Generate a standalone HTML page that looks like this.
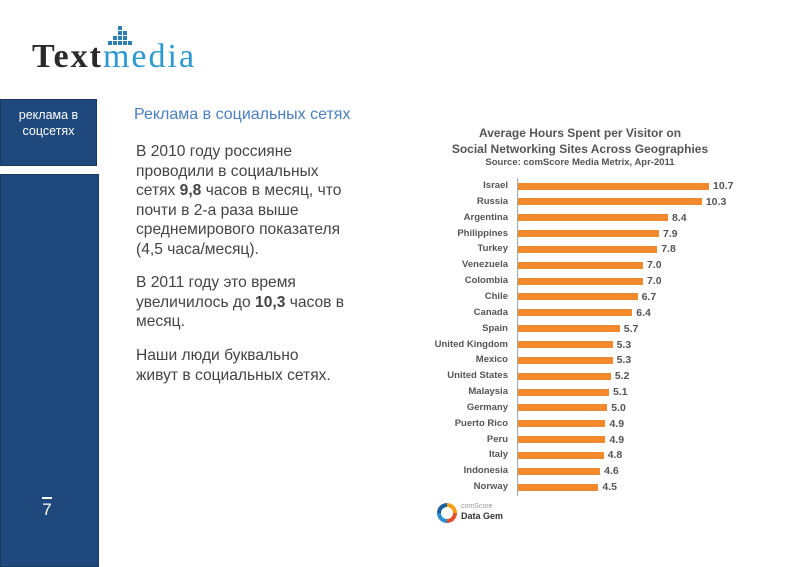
<!DOCTYPE html>
<html><head><meta charset="utf-8"><style>
body{margin:0;width:800px;height:565px;background:#fff;position:relative;overflow:hidden;font-family:"Liberation Sans",sans-serif}
.a{position:absolute}
.box{background:#1f497d;border:1px solid #163a63;left:0;width:97px}
.p{left:136px;font-size:15.6px;color:#444;line-height:19.6px;margin:0;white-space:nowrap}
.lab{position:absolute;right:292px;font-size:9.5px;font-weight:bold;color:#555;text-align:right;white-space:nowrap}
.bar{position:absolute;left:518px;height:7px;background:#f08a2c}
.val{position:absolute;font-size:10.5px;font-weight:bold;color:#555}
</style></head><body>
<div class="a" style="left:32px;top:38px;font-family:'Liberation Serif',serif;font-size:34px;color:#2a2a2a;font-weight:bold;letter-spacing:2px">Text<span style="color:#2c9ad0;font-weight:normal">media</span></div>
<svg class="a" style="left:108px;top:26px" width="30" height="22">
<g fill="#2c7fb0"><rect x="10" y="0" width="4" height="4"/><rect x="10" y="5" width="4" height="4"/><rect x="15" y="5" width="4" height="4"/><rect x="5" y="10" width="4" height="4"/><rect x="10" y="10" width="4" height="4"/><rect x="15" y="10" width="4" height="4"/><rect x="0" y="15" width="4" height="4"/><rect x="5" y="15" width="4" height="4"/><rect x="10" y="15" width="4" height="4"/><rect x="15" y="15" width="4" height="4"/><rect x="20" y="15" width="4" height="4"/></g></svg>
<div class="a box" style="top:99px;color:#fff;font-size:12.5px;text-align:center;line-height:16px;padding-top:7px;box-sizing:border-box;height:67px">реклама в<br>соцсетях</div>
<div class="a box" style="top:174px;height:391px"></div>
<div class="a" style="left:40px;top:497px;color:#fff;font-size:17px;width:14px;text-align:center;line-height:20px"><div style="border-top:2px solid #fff;width:10px;margin:0 auto 1px"></div>7</div>
<div class="a" style="left:134px;top:106px;font-size:16px;color:#4a7fc1">Реклама в социальных сетях</div>
<p class="a p" style="top:142px">В 2010 году россияне<br>проводили в социальных<br>сетях <b>9,8</b> часов в месяц, что<br>почти в 2-а раза выше<br>среднемирового показателя<br>(4,5 часа/месяц).</p>
<p class="a p" style="top:273px">В 2011 году это время<br>увеличилось до <b>10,3</b> часов в<br>месяц.</p>
<p class="a p" style="top:346px">Наши люди буквально<br>живут в социальных сетях.</p>
<div class="a" style="left:420px;top:125px;width:320px;text-align:center;color:#555;font-weight:bold;font-size:12px;line-height:16px">Average Hours Spent per Visitor on<br>Social Networking Sites Across Geographies<div style="font-size:9.5px;line-height:12px">Source: comScore Media Metrix, Apr-2011</div></div>
<div class="a" style="left:517px;top:178px;width:1px;height:318px;background:#aaa"></div>
<div id="c"></div>
<div class="a" style="left:437px;top:503px;width:20px;height:20px;border-radius:50%;background:conic-gradient(#f6a01a 0 25%,#e2512a 25% 50%,#2c8fd0 50% 75%,#1a5fa0 75%)"></div>
<div class="a" style="left:441px;top:507px;width:12px;height:12px;border-radius:50%;background:#fff"></div>
<div class="a" style="left:461px;top:503px;font-size:7px;color:#999">comScore</div>
<div class="a" style="left:461px;top:511px;font-size:9px;font-weight:bold;color:#333">Data Gem</div>
<script>
var d=[["Israel",10.7],["Russia",10.3],["Argentina",8.4],["Philippines",7.9],["Turkey",7.8],["Venezuela",7.0],["Colombia",7.0],["Chile",6.7],["Canada",6.4],["Spain",5.7],["United Kingdom",5.3],["Mexico",5.3],["United States",5.2],["Malaysia",5.1],["Germany",5.0],["Puerto Rico",4.9],["Peru",4.9],["Italy",4.8],["Indonesia",4.6],["Norway",4.5]];
var h="";d.forEach(function(r,i){var y=186+i*15.85;var w=r[1]*17.85;
h+='<div class="lab" style="top:'+(y-6)+'px">'+r[0]+'</div><div class="bar" style="top:'+(y-3.5)+'px;width:'+w+'px"></div><div class="val" style="left:'+(522+w)+'px;top:'+(y-6)+'px">'+r[1].toFixed(1)+'</div>';});
document.getElementById("c").innerHTML=h;
</script>
</body></html>
